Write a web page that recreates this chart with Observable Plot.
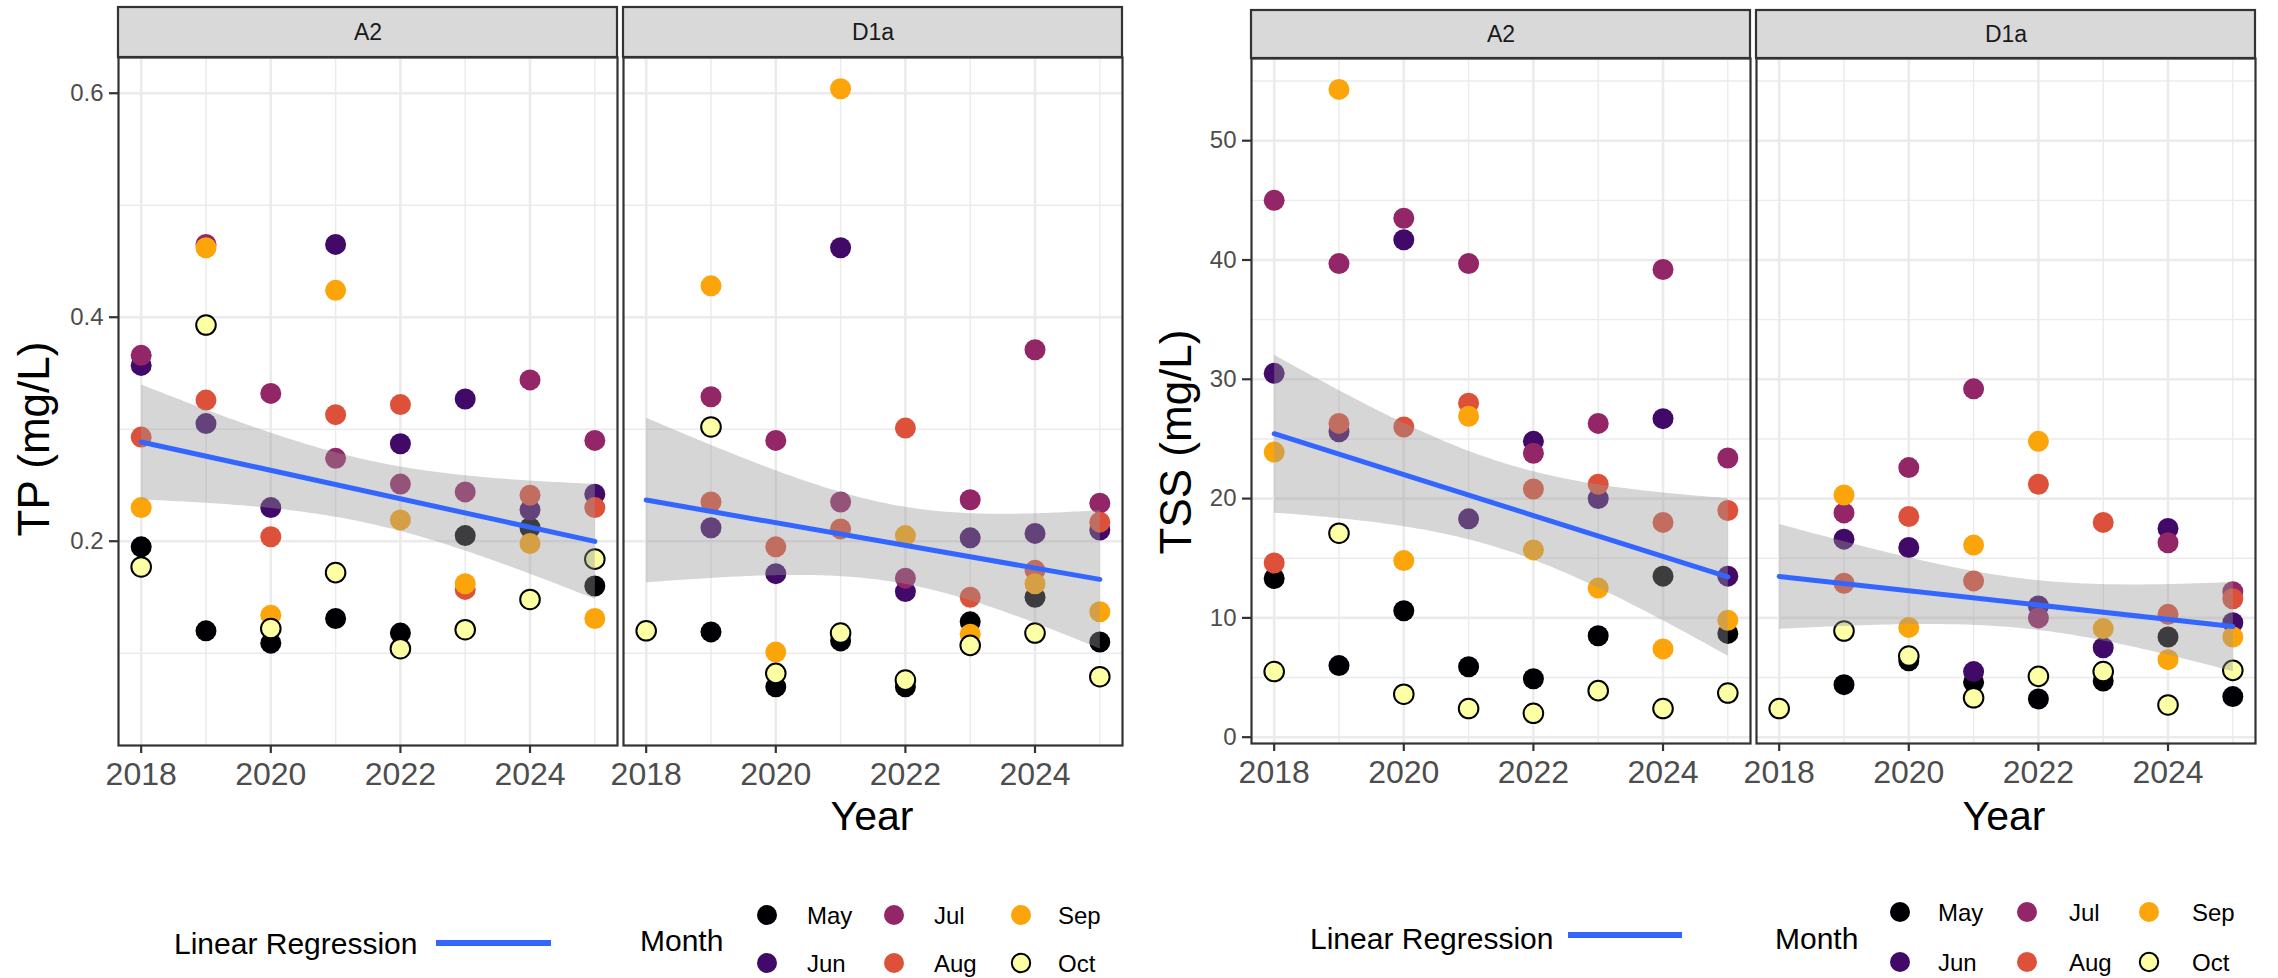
<!DOCTYPE html>
<html>
<head>
<meta charset="utf-8">
<script src="https://cdn.jsdelivr.net/npm/d3@7"></script>
<script src="https://cdn.jsdelivr.net/npm/@observablehq/plot@0.6"></script>
<style>
  html, body { margin: 0; padding: 0; background: #fff; }
  #page { position: relative; width: 2278px; height: 978px; overflow: hidden; background: #fff;
          font-family: "Liberation Sans", Arial, Helvetica, sans-serif; }
</style>
</head>
<body>
<div id="page"></div>
<script>
const FONT = '"Liberation Sans", Arial, Helvetica, sans-serif';

// ---- categories ----
const years = [2018, 2019, 2020, 2021, 2022, 2023, 2024, 2025];
const months = ["May", "Jun", "Jul", "Aug", "Sep", "Oct"];
const monthColors = ["#000004", "#420A68", "#932667", "#DD513A", "#FCA50A", "#FCFFA4"];
const stations = ["A2", "D1a"];

// ---- tick values ----
const xTicks = [2018, 2020, 2022, 2024];
const xMinor = [2019, 2021, 2023, 2025];
const tpTicks = [0.2, 0.4, 0.6];
const tpMinor = [0.1, 0.3, 0.5];
const tssTicks = [0, 10, 20, 30, 40, 50];
const tssMinor = [5, 15, 25, 35, 45, 55];

// ---- TP (mg/L), one value per year 2018..2025 ----
const tpA2May = [0.195, 0.120, 0.109, 0.131, 0.118, 0.205, 0.212, 0.160];
const tpA2Jun = [0.357, 0.305, 0.230, 0.465, 0.287, 0.327, 0.228, 0.242];
const tpA2Jul = [0.366, 0.465, 0.332, 0.274, 0.251, 0.244, 0.344, 0.290];
const tpA2Aug = [0.293, 0.326, 0.204, 0.313, 0.322, 0.157, 0.241, 0.230];
const tpA2Sep = [0.230, 0.462, 0.134, 0.424, 0.219, 0.162, 0.198, 0.131];
const tpA2Oct = [0.177, 0.393, 0.122, 0.172, 0.104, 0.121, 0.148, 0.184];

const tpD1aMay = [null, 0.119, 0.070, 0.111, 0.070, 0.128, 0.150, 0.110];
const tpD1aJun = [null, 0.212, 0.171, 0.462, 0.155, 0.203, 0.207, 0.210];
const tpD1aJul = [null, 0.329, 0.290, 0.235, 0.167, 0.237, 0.371, 0.234];
const tpD1aAug = [null, 0.235, 0.195, 0.211, 0.301, 0.150, 0.174, 0.217];
const tpD1aSep = [null, 0.428, 0.101, 0.604, 0.205, 0.117, 0.162, 0.137];
const tpD1aOct = [0.120, 0.302, 0.082, 0.118, 0.076, 0.107, 0.118, 0.079];

// ---- TSS (mg/L) ----
const tssA2May = [13.3, 6.0, 10.6, 5.9, 4.9, 8.5, 13.5, 8.7];
const tssA2Jun = [30.5, 25.6, 41.7, 18.3, 24.8, 20.0, 26.7, 13.5];
const tssA2Jul = [45.0, 39.7, 43.5, 39.7, 23.8, 26.3, 39.2, 23.4];
const tssA2Aug = [14.6, 26.3, 26.0, 28.0, 20.8, 21.2, 18.0, 19.0];
const tssA2Sep = [23.9, 54.3, 14.8, 26.9, 15.7, 12.5, 7.4, 9.8];
const tssA2Oct = [5.5, 17.1, 3.6, 2.4, 2.0, 3.9, 2.4, 3.7];

const tssD1aMay = [null, 4.4, 6.4, 4.6, 3.2, 4.7, 8.4, 3.4];
const tssD1aJun = [null, 16.6, 15.9, 5.5, 11.0, 7.5, 17.5, 9.6];
const tssD1aJul = [null, 18.8, 22.6, 29.2, 10.0, null, 16.3, 12.2];
const tssD1aAug = [null, 12.9, 18.5, 13.1, 21.2, 18.0, 10.3, 11.6];
const tssD1aSep = [null, 20.3, 9.2, 16.1, 24.8, 9.1, 6.5, 8.4];
const tssD1aOct = [2.4, 8.9, 6.8, 3.3, 5.1, 5.5, 2.7, 5.6];

function rowsFor(station, series) {
  const out = [];
  months.forEach((m, i) => series[i].forEach((v, j) => {
    if (v != null) out.push({station, month: m, year: years[j], value: v});
  }));
  return out;
}

const tpRows = [
  ...rowsFor("A2", [tpA2May, tpA2Jun, tpA2Jul, tpA2Aug, tpA2Sep, tpA2Oct]),
  ...rowsFor("D1a", [tpD1aMay, tpD1aJun, tpD1aJul, tpD1aAug, tpD1aSep, tpD1aOct])
];
const tssRows = [
  ...rowsFor("A2", [tssA2May, tssA2Jun, tssA2Jul, tssA2Aug, tssA2Sep, tssA2Oct]),
  ...rowsFor("D1a", [tssD1aMay, tssD1aJun, tssD1aJul, tssD1aAug, tssD1aSep, tssD1aOct])
];

const page = document.getElementById("page");

function facetChart(cfg) {
  const {rows, yDomain, yTicks, yMinor, yFormat, left, width, height,
         marginLeft, marginRight, marginTop, marginBottom, stripTop} = cfg;
  const chart = Plot.plot({
    width, height, marginLeft, marginRight, marginTop, marginBottom,
    style: {fontFamily: FONT, background: "transparent", overflow: "visible"},
    x: {domain: [2017.65, 2025.35]},
    y: {domain: yDomain},
    fx: {domain: stations, paddingInner: 0.0119, paddingOuter: 0, axis: null},
    color: {domain: months, range: monthColors},
    marks: [
      Plot.gridY({ticks: yMinor, stroke: "#EBEBEB", strokeOpacity: 1, strokeWidth: 1.4}),
      Plot.gridX({ticks: xMinor, stroke: "#EBEBEB", strokeOpacity: 1, strokeWidth: 1.4}),
      Plot.gridY({ticks: yTicks, stroke: "#EBEBEB", strokeOpacity: 1, strokeWidth: 2.6}),
      Plot.gridX({ticks: xTicks, stroke: "#EBEBEB", strokeOpacity: 1, strokeWidth: 2.6}),
      Plot.dot(rows.filter(d => d.month !== "Oct"),
        {x: "year", y: "value", fx: "station", fill: "month", r: 10.5}),
      Plot.dot(rows.filter(d => d.month === "Oct"),
        {x: "year", y: "value", fx: "station", fill: "month", stroke: "#000000", strokeWidth: 2, r: 9.8}),
      Plot.linearRegressionY(rows,
        {x: "year", y: "value", fx: "station", ci: 0.95,
         stroke: "#3366FF", strokeWidth: 5, fill: "#999999", fillOpacity: 0.4}),
      Plot.frame({stroke: "#333333", strokeWidth: 2.2}),
      Plot.axisY({ticks: yTicks, tickFormat: yFormat, tickSize: 9, tickPadding: 6,
        fontSize: 24, label: null, stroke: "#333333", strokeWidth: 2.2, fill: "#4D4D4D"}),
      Plot.axisX({ticks: xTicks, tickFormat: d => String(d), tickSize: 8, tickPadding: 9,
        fontSize: 32, label: null, stroke: "#333333", strokeWidth: 2.2, fill: "#4D4D4D"}),
      Plot.text(stations, {fx: d => d, text: d => d, frameAnchor: "top",
        dy: -(marginTop - stripTop) / 2, lineAnchor: "middle", fontSize: 23, fill: "#1A1A1A"})
    ]
  });
  chart.style.position = "absolute";
  chart.style.left = left + "px";
  chart.style.top = "0px";
  page.appendChild(chart);

  // facet strips (grey boxes behind the facet labels), placed with the fx scale
  const fx = chart.scale("fx");
  const g = d3.select(chart).insert("g", ":first-child");
  for (const s of stations) {
    g.append("rect")
      .attr("x", fx.apply(s)).attr("y", stripTop)
      .attr("width", fx.bandwidth).attr("height", marginTop - stripTop)
      .attr("fill", "#D9D9D9").attr("stroke", "#333333").attr("stroke-width", 2.2);
  }
  return chart;
}

facetChart({
  rows: tpRows, yDomain: [0.0176, 0.6319], yTicks: tpTicks, yMinor: tpMinor,
  yFormat: d => d.toFixed(1),
  left: 0, width: 1140, height: 860,
  marginLeft: 117, marginRight: 18, marginTop: 57, marginBottom: 115, stripTop: 7
});
facetChart({
  rows: tssRows, yDomain: [-0.53, 56.89], yTicks: tssTicks, yMinor: tssMinor,
  yFormat: d => String(d),
  left: 1140, width: 1138, height: 860,
  marginLeft: 111, marginRight: 23, marginTop: 58, marginBottom: 117, stripTop: 10
});

// ---- titles & legends overlay ----
const ov = d3.select(page).append("svg")
  .attr("width", 2278).attr("height", 978)
  .style("position", "absolute").style("left", "0px").style("top", "0px")
  .style("font-family", FONT);

function yTitle(text, x, y) {
  ov.append("text").attr("transform", `translate(${x},${y}) rotate(-90)`)
    .attr("text-anchor", "middle").attr("font-size", 44).attr("fill", "#000").text(text);
}
yTitle("TP (mg/L)", 49, 439);
yTitle("TSS (mg/L)", 1191, 442);

function xTitle(x, y) {
  ov.append("text").attr("x", x).attr("y", y).attr("text-anchor", "middle")
    .attr("font-size", 41).attr("fill", "#000").text("Year");
}
xTitle(872, 830);
xTitle(2004, 830);

function legend(c) {
  ov.append("text").attr("x", c.lrX).attr("y", c.lrY + 0.36 * 30)
    .attr("font-size", 30).attr("fill", "#000").text("Linear Regression");
  ov.append("line").attr("x1", c.lineX1).attr("x2", c.lineX2)
    .attr("y1", c.lineY).attr("y2", c.lineY)
    .attr("stroke", "#3366FF").attr("stroke-width", 6);
  ov.append("text").attr("x", c.monthX).attr("y", c.monthY + 0.36 * 30)
    .attr("font-size", 30).attr("fill", "#000").text("Month");
  months.forEach((m, i) => {
    const col = Math.floor(i / 2), row = i % 2;
    const cy = c.rowY[row];
    ov.append("circle").attr("cx", c.colX[col]).attr("cy", cy)
      .attr("r", m === "Oct" ? 9.2 : 10)
      .attr("fill", monthColors[i])
      .attr("stroke", m === "Oct" ? "#000" : "none").attr("stroke-width", 2);
    ov.append("text").attr("x", c.labelX[col]).attr("y", cy + 0.36 * 24)
      .attr("font-size", 24).attr("fill", "#000").text(m);
  });
}
legend({lrX: 174, lrY: 943, lineX1: 436, lineX2: 551, lineY: 943, monthX: 640, monthY: 940,
        colX: [767, 894, 1021], labelX: [807, 934, 1058], rowY: [915, 963]});
legend({lrX: 1310, lrY: 938, lineX1: 1568, lineX2: 1682, lineY: 935, monthX: 1775, monthY: 938,
        colX: [1900, 2027, 2149], labelX: [1938, 2069, 2192], rowY: [912, 962]});
</script>
</body>
</html>
